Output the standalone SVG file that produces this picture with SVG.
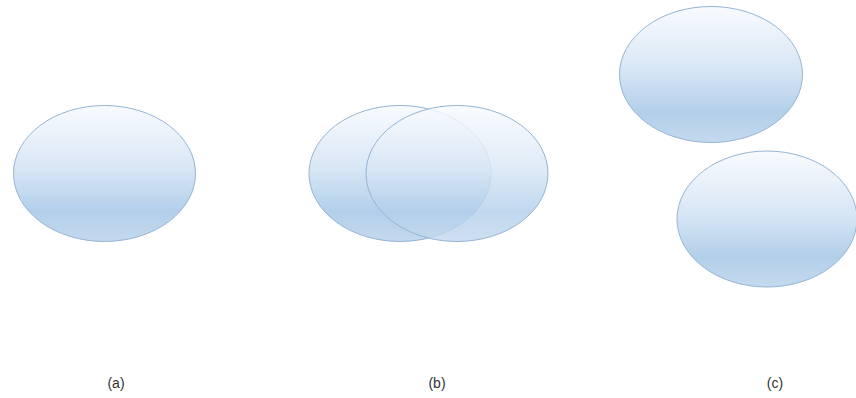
<svg xmlns="http://www.w3.org/2000/svg" width="856" height="398" viewBox="0 0 856 398">
  <defs>
    <linearGradient id="blueFill" x1="0" y1="0" x2="0" y2="1">
      <stop offset="0" stop-color="#f8fbfe"/>
      <stop offset="0.45" stop-color="#d9e7f5"/>
      <stop offset="0.78" stop-color="#b2cfea"/>
      <stop offset="1" stop-color="#c4d9ee"/>
    </linearGradient>
  </defs>
  <style>
    .shape { fill: url(#blueFill); stroke: #94b4d4; stroke-width: 1; }
    .glass { fill-opacity: 0.82; }
    .caption { font-family: "Liberation Sans", Arial, sans-serif; font-size: 14px; fill: #333333; text-anchor: middle; }
  </style>

  <!-- (a) single ellipse -->
  <g id="a-ellipse">
    <ellipse class="shape" cx="104.5" cy="173.5" rx="91" ry="68"/>
  </g>

  <!-- (b) overlapping ellipses -->
  <g id="b-ellipse-left">
    <ellipse class="shape" cx="400" cy="173.5" rx="91" ry="68"/>
  </g>
  <g id="b-ellipse-right">
    <ellipse class="shape glass" cx="457" cy="173.5" rx="91" ry="68"/>
  </g>

  <!-- (c) separated ellipses -->
  <g id="c-ellipse-top">
    <ellipse class="shape" cx="711" cy="74.5" rx="91.5" ry="68"/>
  </g>
  <g id="c-ellipse-bottom">
    <ellipse class="shape" cx="767" cy="219" rx="90" ry="68"/>
  </g>

  <!-- captions -->
  <g id="captions">
    <text class="caption" x="116" y="388">(a)</text>
    <text class="caption" x="437" y="388">(b)</text>
    <text class="caption" x="775" y="388">(c)</text>
  </g>
</svg>
